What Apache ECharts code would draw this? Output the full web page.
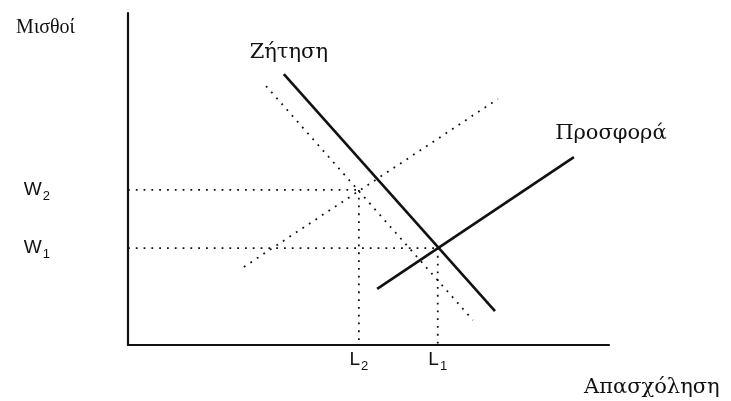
<!DOCTYPE html>
<html>
<head>
<meta charset="utf-8">
<script src="https://cdn.jsdelivr.net/npm/echarts@6/dist/echarts.min.js"></script>
<style>
  html, body { margin: 0; padding: 0; background: #fff; }
  #chart { width: 731px; height: 401px; }
</style>
</head>
<body>
<div id="chart"></div>
<script>
// lines are given as [start, end] in axis units (0..100 on both axes)
var demand = [[32.4, 81.6], [76.3, 10.2]];
var demandShift = [[28.7, 78.0], [71.7, 7.5]];
var supply = [[51.8, 16.9], [92.7, 56.6]];
var supplyShift = [[24.1, 23.5], [76.9, 74.1]];

// equilibrium points: index 0 -> (L1, W1), index 1 -> (L2, W2)
var eqL = [64.4, 48.0];
var eqW = [29.2, 46.7];
var eqNames = ['1', '2'];

var lineNames = { demand: 'Ζήτηση', supply: 'Προσφορά' };
var axisNames = { x: 'Απασχόληση', y: 'Μισθοί' };

var serif = 'Liberation Serif';
var wideSerif = 'DejaVu Serif';
var sans = 'Liberation Sans';
var ink = '#111';

function guide(points) {
  return {
    type: 'line', data: points, symbol: 'none', silent: true,
    lineStyle: { color: ink, width: 1.8, type: [1.8, 6] }
  };
}

function curveLabel(text, offset) {
  return { show: true, position: 'top', distance: 12, offset: offset, formatter: text, fontFamily: wideSerif, fontSize: 21, color: ink };
}

var series = [];

// solid demand with its label at the upper end
series.push({
  type: 'line', symbol: 'circle', symbolSize: 0, showSymbol: true,
  data: [
    { value: demand[0], label: curveLabel(lineNames.demand, [5, 1]) },
    demand[1]
  ],
  lineStyle: { color: ink, width: 2.6 }
});
series.push(guide(demandShift));

series.push({
  type: 'line', symbol: 'circle', symbolSize: 0, showSymbol: true,
  data: [
    supply[0],
    { value: supply[1], label: curveLabel(lineNames.supply, [37, -1]) }
  ],
  lineStyle: { color: ink, width: 2.6 }
});
series.push(guide(supplyShift));

// dotted guides from each equilibrium to the axes
for (var i = 0; i < eqL.length; i++) {
  series.push(guide([[0, eqW[i]], [eqL[i], eqW[i]]]));
  series.push(guide([[eqL[i], eqW[i]], [eqL[i], 0]]));
}

function subLabel(letter, values) {
  return function (v) {
    var k = values.indexOf(v);
    return '{m|' + letter + '}{s|' + eqNames[k] + '}';
  };
}
var rich = {
  m: { fontFamily: sans, fontSize: 19, color: ink, lineHeight: 22 },
  s: { fontFamily: sans, fontSize: 13, color: ink, lineHeight: 22, padding: [13, 0, 0, 1] }
};

var chart = echarts.init(document.getElementById('chart'));
chart.setOption({
  animation: false,
  backgroundColor: '#fff',
  grid: { left: 128, right: 122, top: 13, bottom: 56, outerBoundsMode: 'none' },
  xAxis: {
    type: 'value', min: 0, max: 100,
    name: axisNames.x, nameLocation: 'end', nameGap: -25,
    nameTextStyle: { fontFamily: wideSerif, fontSize: 21, color: ink, align: 'left', verticalAlign: 'top', padding: [32, 0, 0, 0] },
    axisLine: { show: true, lineStyle: { color: ink, width: 2.2 } },
    axisTick: { show: false },
    splitLine: { show: false },
    axisLabel: { customValues: eqL, formatter: subLabel('L', eqL), rich: rich, margin: 4 }
  },
  yAxis: {
    type: 'value', min: 0, max: 100,
    name: axisNames.y, nameLocation: 'end', nameGap: -15,
    nameTextStyle: { fontFamily: serif, fontSize: 20, color: ink, align: 'right', verticalAlign: 'middle', padding: [0, 53, 0, 0] },
    axisLine: { show: true, lineStyle: { color: ink, width: 2.2 } },
    axisTick: { show: false },
    splitLine: { show: false },
    axisLabel: { customValues: eqW, formatter: subLabel('W', eqW), rich: rich, margin: 78 }
  },
  series: series
});
</script>
</body>
</html>
